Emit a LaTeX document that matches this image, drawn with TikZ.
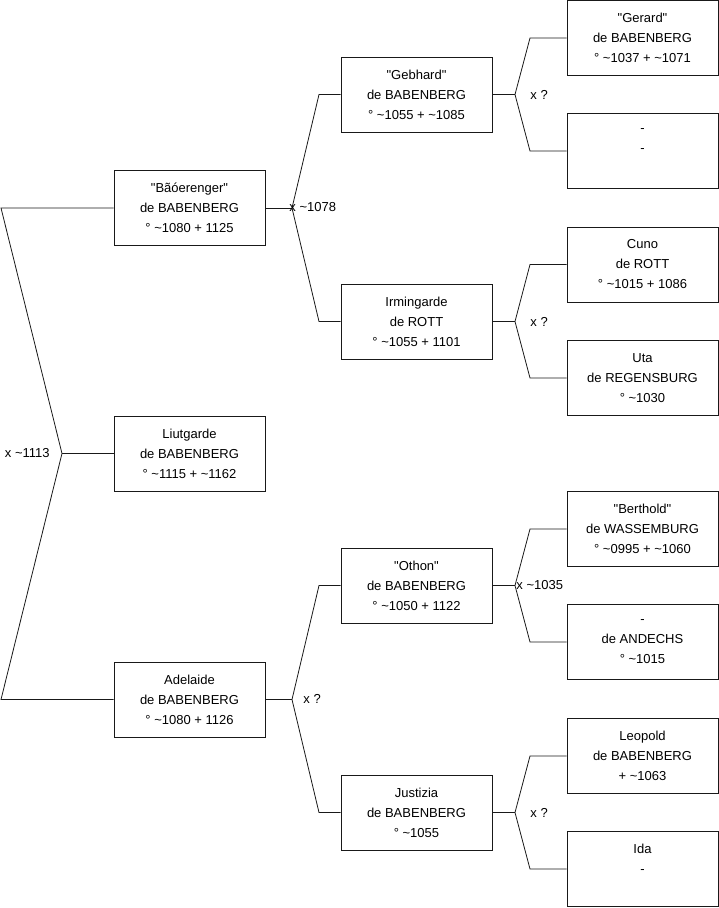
\documentclass[tikz,border=0pt]{standalone}
\usepackage{fontspec}
\setmainfont{Liberation Sans}[Ligatures=TeXOff]
\newcommand{\apx}{\textasciitilde}

\begin{document}
\begin{tikzpicture}[x=1pt, y=-1pt, line width=0.8pt, draw=black!90,
  person/.style={draw, minimum width=151pt, minimum height=75pt, align=center,
    inner sep=0pt, font=\fontsize{13}{20}\selectfont},
  union/.style={inner sep=0pt, font=\fontsize{13}{16}\selectfont}]
  \useasboundingbox (0,0) rectangle (719,908);
  % generation 1
  \node[person] (bao) at (189.5,208) {"Bãóerenger"\\de BABENBERG\\° \apx1080 + 1125};
  \node[person] (liut) at (189.5,453.5) {Liutgarde\\de BABENBERG\\° \apx1115 + \apx1162};
  \node[person] (adel) at (189.5,699.5) {Adelaide\\de BABENBERG\\° \apx1080 + 1126};
  % generation 2
  \node[person] (gebh) at (416.5,94.5) {"Gebhard"\\de BABENBERG\\° \apx1055 + \apx1085};
  \node[person] (irmi) at (416.5,321.5) {Irmingarde\\de ROTT\\° \apx1055 + 1101};
  \node[person] (otho) at (416.5,585.5) {"Othon"\\de BABENBERG\\° \apx1050 + 1122};
  \node[person] (just) at (416.5,812.5) {Justizia\\de BABENBERG\\° \apx1055};
  % generation 3
  \node[person] (gera) at (642.5,38) {"Gerard"\\de BABENBERG\\° \apx1037 + \apx1071};
  \node[person] (unkn) at (642.5,151) {-\\-\\\mbox{}};
  \node[person] (cuno) at (642.5,264.5) {Cuno\\de ROTT\\° \apx1015 + 1086};
  \node[person] (uta) at (642.5,378) {Uta\\de REGENSBURG\\° \apx1030};
  \node[person] (bert) at (642.5,529) {"Berthold"\\de WASSEMBURG\\° \apx0995 + \apx1060};
  \node[person] (ande) at (642.5,642) {-\\de ANDECHS\\° \apx1015};
  \node[person] (leop) at (642.5,756) {Leopold\\de BABENBERG\\+ \apx1063};
  \node[person] (ida) at (642.5,869) {Ida\\-\\\mbox{}};

  % unions
  \coordinate (u1) at (62,453.5);
  \coordinate (u1a) at (1,208);
  \coordinate (u1b) at (1,699.5);
  \draw (bao.west) -- (u1a) -- (u1) -- (u1b) -- (adel.west);
  \draw (u1) -- (liut.west);
  \node[union, anchor=east] (m1) at (50,453) {x \apx1113};

  \coordinate (u2) at (292,208);
  \coordinate (u2a) at (319,94.5);
  \coordinate (u2b) at (319,321.5);
  \draw (bao.east) -- (u2);
  \draw (gebh.west) -- (u2a) -- (u2) -- (u2b) -- (irmi.west);
  \node[union, anchor=west] (m2) at (289,207) {x \apx1078};

  \coordinate (u3) at (292,699.5);
  \coordinate (u3a) at (319,585.5);
  \coordinate (u3b) at (319,812.5);
  \draw (adel.east) -- (u3);
  \draw (otho.west) -- (u3a) -- (u3) -- (u3b) -- (just.west);
  \node[union, anchor=west] (m3) at (303,699) {x ?};

  \coordinate (u4) at (515,94.5);
  \coordinate (u4a) at (530,38);
  \coordinate (u4b) at (530,151);
  \draw (gebh.east) -- (u4);
  \draw (gera.west) -- (u4a) -- (u4) -- (u4b) -- (unkn.west);
  \node[union, anchor=west] (m4) at (530,94.5) {x ?};

  \coordinate (u5) at (515,321.5);
  \coordinate (u5a) at (530,264.5);
  \coordinate (u5b) at (530,378);
  \draw (irmi.east) -- (u5);
  \draw (cuno.west) -- (u5a) -- (u5) -- (u5b) -- (uta.west);
  \node[union, anchor=west] (m5) at (530,321.5) {x ?};

  \coordinate (u6) at (515,585.5);
  \coordinate (u6a) at (530,529);
  \coordinate (u6b) at (530,642);
  \draw (otho.east) -- (u6);
  \draw (bert.west) -- (u6a) -- (u6) -- (u6b) -- (ande.west);
  \node[union, anchor=west] (m6) at (516,585.5) {x \apx1035};

  \coordinate (u7) at (515,812.5);
  \coordinate (u7a) at (530,756);
  \coordinate (u7b) at (530,869);
  \draw (just.east) -- (u7);
  \draw (leop.west) -- (u7a) -- (u7) -- (u7b) -- (ida.west);
  \node[union, anchor=west] (m7) at (530,812.5) {x ?};
\end{tikzpicture}
\end{document}
